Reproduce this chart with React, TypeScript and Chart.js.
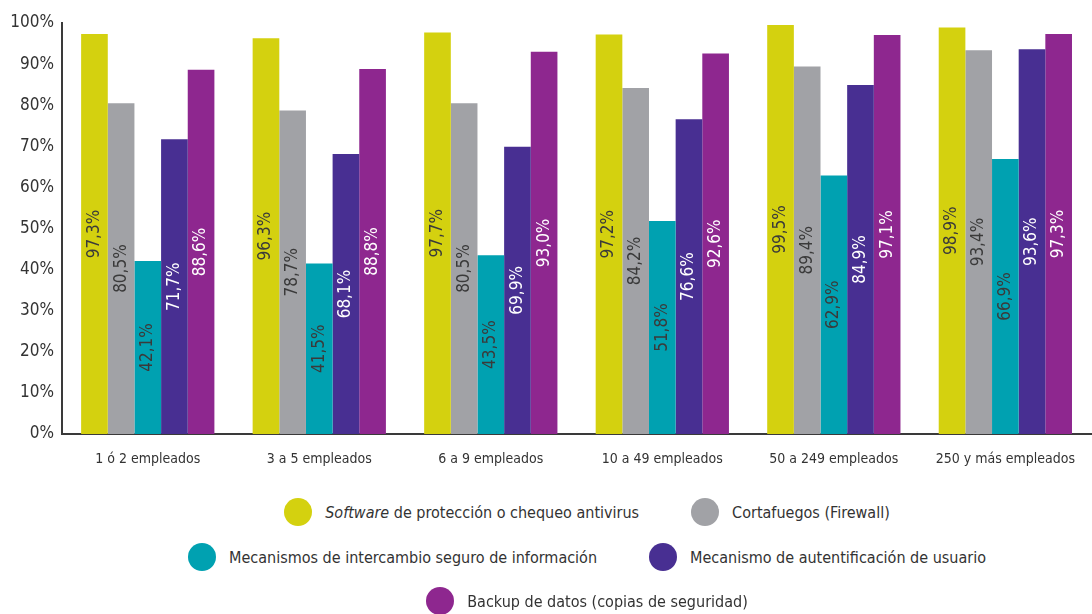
import React, { useEffect, useRef } from "react";
import { Chart, registerables } from "chart.js";

Chart.register(...registerables);

const categories = [
  "1 ó 2 empleados",
  "3 a 5 empleados",
  "6 a 9 empleados",
  "10 a 49 empleados",
  "50 a 249 empleados",
  "250 y más empleados",
];

const seriesNames = [
  "Software de protección o chequeo antivirus",
  "Cortafuegos (Firewall)",
  "Mecanismos de intercambio seguro de información",
  "Mecanismo de autentificación de usuario",
  "Backup de datos (copias de seguridad)",
];

const antivirus = [97.3, 96.3, 97.7, 97.2, 99.5, 98.9];
const firewall = [80.5, 78.7, 80.5, 84.2, 89.4, 93.4];
const intercambio = [42.1, 41.5, 43.5, 51.8, 62.9, 66.9];
const autentificacion = [71.7, 68.1, 69.9, 76.6, 84.9, 93.6];
const backup = [88.6, 88.8, 93.0, 92.6, 97.1, 97.3];

const seriesValues = [antivirus, firewall, intercambio, autentificacion, backup];
const seriesColors = ["#d4d10f", "#a1a2a6", "#00a1b1", "#482f92", "#8e278f"];
const labelColors = ["#3a3a3a", "#3a3a3a", "#3a3a3a", "#ffffff", "#ffffff"];

const yTicks = [0, 10, 20, 30, 40, 50, 60, 70, 80, 90, 100];

const FONT = "'Liberation Sans Narrow', 'DejaVu Sans Condensed', 'Arial Narrow', sans-serif";

const valueLabelPlugin = {
  id: "valueLabels",
  afterDatasetsDraw(chart: any) {
    const ctx = chart.ctx;
    chart.data.datasets.forEach((ds: any, di: number) => {
      const meta = chart.getDatasetMeta(di);
      meta.data.forEach((el: any, i: number) => {
        const p = el.getProps(["x", "y", "base"], true);
        const v = ds.data[i] as number;
        const txt = v.toFixed(1).replace(".", ",") + "%";
        ctx.save();
        ctx.translate(p.x, (p.y + p.base) / 2);
        ctx.rotate(-Math.PI / 2);
        ctx.font = `17px ${FONT}`;
        ctx.fillStyle = labelColors[di];
        ctx.textAlign = "center";
        ctx.textBaseline = "middle";
        ctx.fillText(txt, 0, 0);
        ctx.restore();
      });
    });
  },
};

export default function App() {
  const canvasRef = useRef<HTMLCanvasElement | null>(null);

  useEffect(() => {
    if (!canvasRef.current) return;
    const chart = new Chart(canvasRef.current, {
      type: "bar",
      data: {
        labels: categories,
        datasets: seriesNames.map((name, i) => ({
          label: name,
          data: seriesValues[i],
          backgroundColor: seriesColors[i],
          borderWidth: 0,
          categoryPercentage: 0.777,
          barPercentage: 1,
        })),
      },
      options: {
        animation: false,
        responsive: true,
        maintainAspectRatio: false,
        layout: { padding: { top: 23, right: 0, left: 0, bottom: 0 } },
        plugins: {
          legend: { display: false },
          tooltip: { enabled: false },
        },
        scales: {
          x: {
            grid: { display: false, drawTicks: false },
            border: { display: true, color: "#3a3a3a", width: 2 },
            ticks: {
              padding: 17,
              color: "#333333",
              font: { family: FONT, size: 14 },
              maxRotation: 0,
              autoSkip: false,
            },
            afterFit(scale: any) {
              scale.height = 46;
            },
          },
          y: {
            min: 0,
            max: 100,
            grid: { display: false, drawTicks: false },
            border: { display: true, color: "#3a3a3a", width: 2 },
            afterBuildTicks(scale: any) {
              scale.ticks = yTicks.map((v) => ({ value: v }));
            },
            ticks: {
              padding: 8,
              color: "#333333",
              font: { family: FONT, size: 17 },
              callback: (v: any) => v + "%",
            },
            afterFit(scale: any) {
              scale.width = 62;
            },
          },
        },
      },
      plugins: [valueLabelPlugin],
    });
    return () => chart.destroy();
  }, []);

  const legendItem = (i: number, content: React.ReactNode) => (
    <div key={i} style={{ display: "flex", alignItems: "center", margin: "0 26px" }}>
      <span
        style={{
          display: "inline-block",
          width: 28,
          height: 28,
          borderRadius: "50%",
          background: seriesColors[i],
          marginRight: 13,
        }}
      />
      <span>{content}</span>
    </div>
  );

  const rowStyle: React.CSSProperties = {
    position: "absolute",
    left: 82,
    width: 1010,
    height: 30,
    display: "flex",
    justifyContent: "center",
    alignItems: "center",
  };

  return (
    <div
      style={{
        position: "fixed",
        left: 0,
        top: 0,
        width: 1092,
        height: 614,
        background: "#ffffff",
        fontFamily: FONT,
        fontSize: 16,
        color: "#333333",
      }}
    >
      <div style={{ position: "absolute", left: 0, top: 0, width: 1092, height: 480 }}>
        <canvas ref={canvasRef} />
      </div>
      <div style={{ ...rowStyle, top: 497 }}>
        {legendItem(0, (
          <>
            <i>Software</i> de protección o chequeo antivirus
          </>
        ))}
        {legendItem(1, seriesNames[1])}
      </div>
      <div style={{ ...rowStyle, top: 542 }}>
        {legendItem(2, seriesNames[2])}
        {legendItem(3, seriesNames[3])}
      </div>
      <div style={{ ...rowStyle, top: 586 }}>{legendItem(4, seriesNames[4])}</div>
    </div>
  );
}
